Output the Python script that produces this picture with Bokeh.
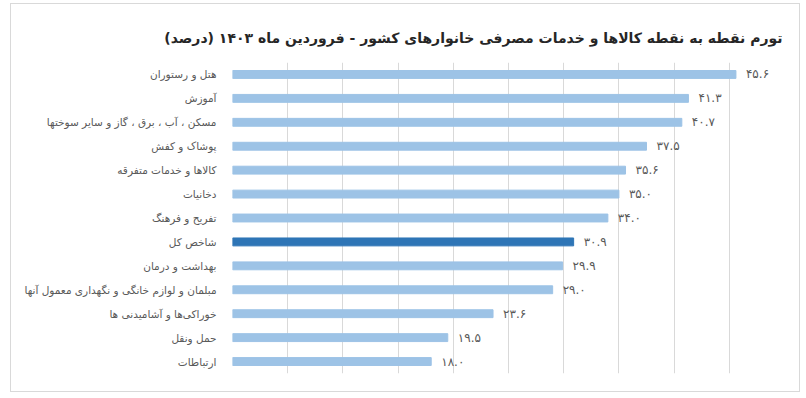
from bokeh.plotting import figure
from bokeh.models import ColumnDataSource, FactorRange, Range1d, SingleIntervalTicker, Title
from bokeh.embed import file_html
from bokeh.resources import INLINE
from bokeh.core.properties import value

categories = [
    "هتل و رستوران",
    "آموزش",
    "مسکن ، آب ، برق ، گاز و سایر سوختها",
    "پوشاک و کفش",
    "کالاها و خدمات متفرقه",
    "دخانیات",
    "تفریح و فرهنگ",
    "شاخص کل",
    "بهداشت و درمان",
    "مبلمان و لوازم خانگی و نگهداری معمول آنها",
    "خوراکی‌ها و آشامیدنی ها",
    "حمل ونقل",
    "ارتباطات",
]
values = [45.6, 41.3, 40.7, 37.5, 35.6, 35.0, 34.0, 30.9, 29.9, 29.0, 23.6, 19.5, 18.0]
highlight = "شاخص کل"
title_text = "تورم نقطه به نقطه کالاها و خدمات مصرفی خانوارهای کشور - فروردین ماه ۱۴۰۳ (درصد)"

FA = str.maketrans("0123456789", "۰۱۲۳۴۵۶۷۸۹")
labels = [f"{v:.1f}".translate(FA) for v in values]
colors = ["#2E75B6" if c == highlight else "#9DC3E6" for c in categories]

src = ColumnDataSource(dict(cat=categories, val=values, lab=labels, col=colors))

p = figure(
    width=790, height=389,
    y_range=FactorRange(*reversed(categories)),
    x_range=Range1d(0, 50),
    output_backend="svg", toolbar_location=None,
    min_border_left=221, min_border_right=17, min_border_top=58, min_border_bottom=20,
)
p.title = Title(text=title_text, align="right", text_font_size="14px",
                text_font="DejaVu Sans", text_font_style="bold", text_color="#262626",
                offset=2, standoff=33)

p.hbar(y="cat", right="val", left=0, height=0.33, color="col", source=src)
p.text(x="val", y="cat", text="lab", source=src, x_offset=10,
       text_align="left", text_baseline="middle", text_font_size="12px",
       text_color="#595959", text_font=value("DejaVu Sans"))

p.xaxis.visible = False
p.xaxis.ticker = SingleIntervalTicker(interval=5)
p.xgrid.ticker = SingleIntervalTicker(interval=5)
p.xgrid.grid_line_color = "#d9d9d9"
p.ygrid.grid_line_color = None

ya = p.yaxis[0]
ya.axis_line_color = None
ya.major_tick_line_color = None
ya.minor_tick_line_color = None
ya.major_label_standoff = 10
ya.major_label_text_font = "DejaVu Sans"
ya.major_label_text_font_size = "10.5px"
ya.major_label_text_color = "#595959"

p.outline_line_color = None
p.styles = {"border": "1px solid #d9d9d9", "margin": "3px 0 0 10px"}

open("out.html", "w").write(file_html(p, INLINE))
